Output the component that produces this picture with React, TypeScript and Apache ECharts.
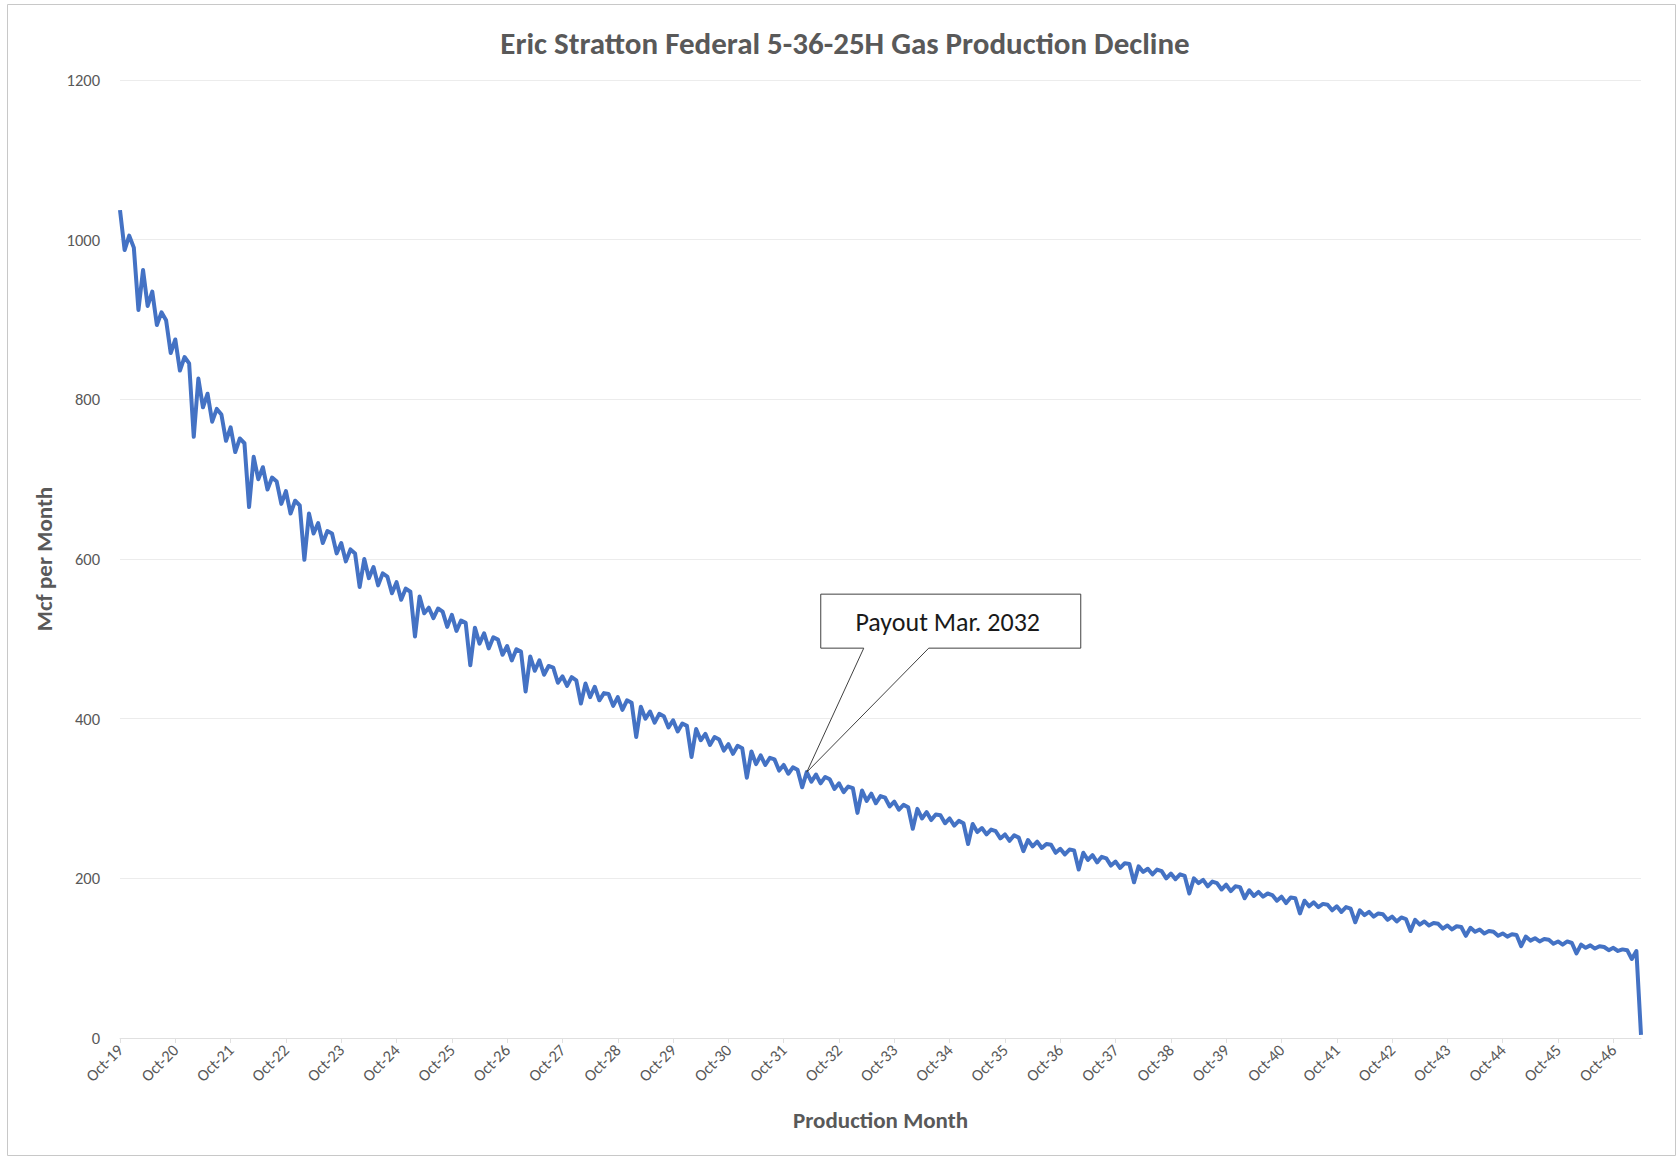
import React, { useEffect, useRef } from "react";
import * as echarts from "echarts";

// ---------- data ----------
const MONTH_NAMES = ["Jan", "Feb", "Mar", "Apr", "May", "Jun", "Jul", "Aug", "Sep", "Oct", "Nov", "Dec"];
const START_YEAR = 2019;
const START_MONTH = 9; // October, 0-based

// Gas production, Mcf per month. Each row = Oct .. Sep.
const gasMcf2019to2026 = [
  1037, 987, 1005, 990, 912, 962, 917, 935, 893, 909, 899, 858,
  875, 836, 853, 845, 753, 826, 790, 807, 772, 788, 781, 748,
  765, 734, 751, 745, 665, 728, 700, 715, 687, 702, 697, 669,
  685, 657, 673, 667, 599, 657, 632, 645, 620, 635, 632, 607,
  620, 597, 612, 607, 565, 600, 576, 590, 567, 582, 578, 557,
  571, 549, 563, 559, 503, 553, 532, 539, 526, 538, 534, 515,
  530, 510, 523, 520, 467, 514, 494, 507, 488, 502, 499, 480,
];
const gasMcf2026to2033 = [
  491, 473, 487, 484, 434, 478, 460, 473, 455, 466, 464, 445,
  453, 441, 452, 448, 419, 444, 427, 440, 423, 432, 431, 416,
  427, 411, 423, 420, 377, 415, 400, 409, 395, 406, 403, 389,
  398, 384, 394, 391, 352, 387, 373, 381, 367, 377, 374, 360,
  368, 356, 366, 363, 326, 359, 343, 354, 342, 351, 349, 335,
  342, 331, 339, 336, 314, 333, 321, 330, 319, 327, 324, 312,
  319, 308, 315, 313, 282, 310, 297, 306, 294, 303, 301, 290,
];
const gasMcf2033to2040 = [
  296, 286, 292, 289, 262, 287, 275, 283, 273, 280, 279, 269,
  275, 266, 272, 269, 243, 268, 258, 263, 255, 261, 259, 250,
  255, 247, 254, 251, 234, 248, 240, 246, 238, 243, 242, 232,
  237, 230, 236, 235, 211, 232, 223, 229, 220, 227, 225, 216,
  221, 213, 219, 218, 195, 215, 208, 212, 205, 211, 209, 200,
  206, 199, 205, 203, 181, 200, 194, 198, 190, 196, 194, 186,
  192, 184, 190, 189, 175, 185, 178, 183, 177, 181, 179, 172,
];
const gasMcf2040to2047 = [
  177, 169, 176, 175, 156, 172, 165, 170, 164, 168, 167, 160,
  165, 158, 164, 162, 145, 160, 154, 158, 152, 156, 155, 148,
  152, 146, 151, 149, 134, 148, 142, 146, 141, 144, 143, 137,
  141, 136, 140, 139, 128, 138, 133, 136, 131, 134, 133, 128,
  131, 127, 130, 129, 115, 127, 122, 125, 121, 124, 123, 118,
  121, 117, 121, 119, 106, 117, 113, 116, 112, 115, 114, 110,
  113, 109, 111, 110, 99, 109, 4,
];

const TITLE = "Eric Stratton Federal 5-36-25H Gas Production Decline";
const X_NAME = "Production Month";
const Y_NAME = "Mcf per Month";
const Y_MIN = 0;
const Y_MAX = 1200;
const Y_STEP = 200;
const PAYOUT_LABEL = "Payout Mar. 2032";
const PAYOUT_MONTH = "Mar-32";

const gasMcf = [...gasMcf2019to2026, ...gasMcf2026to2033, ...gasMcf2033to2040, ...gasMcf2040to2047];
const months = gasMcf.map((_, i) => {
  const m = START_MONTH + i;
  const y = START_YEAR + Math.floor(m / 12);
  return `${MONTH_NAMES[m % 12]}-${String(y % 100).padStart(2, "0")}`;
});

// ---------- styling ----------
const FONT = "Carlito, Lato, 'Open Sans', sans-serif";
const GRAY = "#595959";
const W = 1678;
const H = 1159;

export default function App() {
  const ref = useRef<HTMLDivElement>(null);

  useEffect(() => {
    if (!ref.current) return;
    const chart = echarts.init(ref.current, null, { renderer: "svg", width: W, height: H });

    const option: any = {
      animation: false,
      backgroundColor: "#ffffff",
      textStyle: { fontFamily: FONT },
      grid: { left: 120, right: 37, top: 80, bottom: 121, containLabel: false },
      xAxis: {
        type: "category",
        data: months,
        boundaryGap: false,
        axisLine: { show: true, lineStyle: { color: "#e0e0e0", width: 1 } },
        axisTick: { show: true, interval: 11, length: 5, lineStyle: { color: "#e0e0e0" } },
        axisLabel: { interval: 11, rotate: 45, color: GRAY, fontSize: 16.5, margin: 9, fontFamily: FONT },
        splitLine: { show: false },
        name: X_NAME,
        nameLocation: "middle",
        nameGap: 70,
        nameTextStyle: { color: GRAY, fontSize: 23, fontWeight: "bold", fontFamily: FONT },
      },
      yAxis: {
        type: "value",
        min: Y_MIN,
        max: Y_MAX,
        interval: Y_STEP,
        axisLine: { show: false },
        axisTick: { show: false },
        axisLabel: {
          color: GRAY,
          fontSize: 16.5,
          margin: 20,
          fontFamily: FONT,
          formatter: (v: number) => String(v),
        },
        splitLine: { lineStyle: { color: "#ececec", width: 1 } },
        name: Y_NAME,
        nameLocation: "middle",
        nameGap: 63,
        nameTextStyle: { color: GRAY, fontSize: 23, fontWeight: "bold", fontFamily: FONT },
      },
      series: [
        {
          type: "line",
          data: gasMcf,
          showSymbol: false,
          symbol: "none",
          lineStyle: { color: "#4472C4", width: 4, join: "round" },
          itemStyle: { color: "#4472C4" },
          z: 3,
        },
      ],
      graphic: [
        {
          id: "frame",
          type: "rect",
          shape: { x: 7.5, y: 4.5, width: 1668, height: 1151 },
          style: { fill: "none", stroke: "#c8c8c8", lineWidth: 1 },
          silent: true,
          z: -1,
        },
        {
          id: "title",
          type: "text",
          x: 845,
          y: 43,
          style: {
            text: TITLE,
            font: `bold 31px ${FONT}`,
            fill: GRAY,
            align: "center",
            verticalAlign: "middle",
            textAlign: "center",
            textVerticalAlign: "middle",
          },
        },
      ],
    };
    chart.setOption(option);

    // Callout anchored to the payout month on the curve
    const idx = months.indexOf(PAYOUT_MONTH);
    if (idx >= 0) {
      const tip = chart.convertToPixel({ xAxisIndex: 0, yAxisIndex: 0 }, [idx, gasMcf[idx]]) as number[];
      const tx = tip[0];
      const ty = tip[1];
      const left = tx + 14;
      const top = ty - 178;
      const right = tx + 274;
      const bottom = ty - 124;
      chart.setOption({
        graphic: [
          {
            id: "callout",
            type: "polygon",
            shape: {
              points: [
                [left, top],
                [right, top],
                [right, bottom],
                [tx + 122, bottom],
                [tx, ty],
                [tx + 57, bottom],
                [left, bottom],
              ],
            },
            style: { fill: "#ffffff", stroke: "#404040", lineWidth: 1 },
            z: 10,
          },
          {
            id: "calloutText",
            type: "text",
            x: (left + right) / 2 - 3,
            y: (top + bottom) / 2 + 1,
            style: {
              text: PAYOUT_LABEL,
              font: `26px ${FONT}`,
              fill: "#1a1a1a",
              align: "center",
              verticalAlign: "middle",
              textAlign: "center",
              textVerticalAlign: "middle",
            },
            z: 11,
          },
        ],
      });
    }

    return () => chart.dispose();
  }, []);

  return (
    <div
      ref={ref}
      style={{ position: "absolute", left: 0, top: 0, width: W, height: H, background: "#fff" }}
    />
  );
}
